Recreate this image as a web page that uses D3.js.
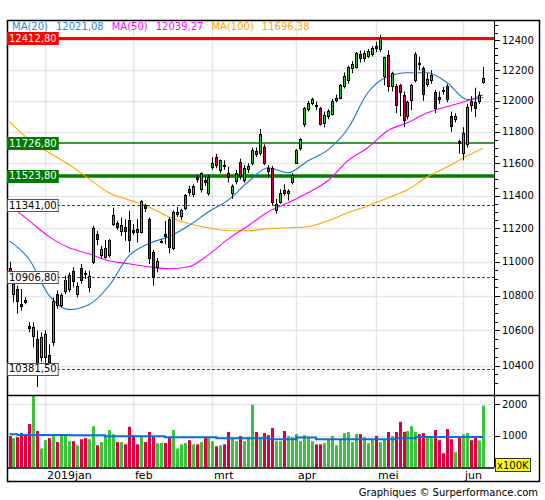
<!DOCTYPE html>
<html><head><meta charset="utf-8">
<script src="https://cdn.jsdelivr.net/npm/d3@7"></script>
<style>
body{margin:0;background:#fff}
svg{display:block}
text{font-family:"DejaVu Sans",Verdana,sans-serif}
</style>
</head><body>
<svg id="c" width="545" height="500"></svg>
<script>
// ---------- data ----------
const openP = [10965,10810,10839,10750,10777,10625,10570,10551,10446,10450,10461,10532,10809,10745,10829,10840,10947,10809,10961,10935,
10849,10996,11166,11041,11031,11040,11226,11232,11186,11206,11250,11190,11196,11176,11340,11256,11059,10967,11120,11166,
11256,11080,11290,11276,11327,11440,11413,11514,11438,11495,11415,11579,11641,11558,11592,11539,11419,11492,11610,11496,
11564,11606,11680,11663,11701,11570,11570,11312,11363,11434,11415,11482,11606,11697,11850,11946,11983,11974,11950,11855,
11903,11915,12005,12021,12095,12135,12217,12221,12306,12280,12295,12306,12362,12338,12164,12302,12095,12095,12100,12035,
11903,12006,12135,12250,12217,12109,12135,12057,12025,12070,12095,11903,11885,11740,11663,11724,11998,11989,12000,12125];
const highP = [11000,10898,10858,10839,10792,10646,10646,10598,10588,10600,10520,10790,10830,10815,10917,10935,10967,10878,10987,10947,
10947,11215,11185,11095,11130,11135,11326,11246,11266,11256,11307,11225,11256,11372,11350,11266,11070,11022,11135,11246,
11266,11310,11330,11320,11410,11460,11470,11530,11545,11520,11530,11640,11660,11625,11620,11580,11470,11560,11630,11590,
11600,11700,11700,11818,11720,11590,11585,11380,11440,11470,11440,11540,11690,11760,11960,12000,12020,11995,11960,11930,
11945,12010,12040,12110,12185,12230,12260,12320,12330,12330,12340,12360,12390,12435,12290,12330,12190,12110,12110,12060,
12000,12110,12320,12290,12225,12180,12200,12070,12060,12090,12110,11930,11920,11750,11830,11980,12030,12085,12060,12220];
const lowP = [10915,10761,10696,10713,10750,10588,10503,10279,10420,10386,10386,10510,10725,10733,10809,10820,10849,10790,10870,10898,
10820,10987,11100,11018,11018,11025,11214,11190,11155,11125,11055,11160,11115,11170,11300,10987,10858,10937,11110,11105,
11050,11070,11270,11250,11310,11400,11390,11480,11420,11460,11400,11560,11570,11540,11560,11480,11380,11470,11500,11480,
11540,11590,11640,11650,11590,11510,11340,11290,11350,11400,11370,11470,11600,11680,11830,11930,11970,11940,11840,11830,
11880,11905,11990,12010,12080,12110,12180,12210,12250,12255,12280,12290,12320,12320,12100,12060,12060,11920,11900,11830,
11880,11940,12120,12200,12000,12090,12110,11920,11980,12040,11990,11800,11860,11663,11620,11700,11930,11895,11980,12110];
const closeP = [10925,10870,10771,10741,10763,10611,10620,10381.5,10559,10580,10417,10767,10748,10804,10893,10921,10887,10856,10891,10931,
10918,11205,11136,11075,11081,11130,11282,11210,11219,11182,11130,11181,11177,11368,11324,11022,10907,11005,11126,11152,
11090,11300,11299,11309,11401,11423,11458,11505,11541,11487,11516,11603,11593,11621,11588,11518,11458,11543,11524,11572,
11587,11686,11657,11788,11604,11550,11364,11347,11419,11419,11428,11526,11682,11754,11954,11988,12010,11963,11851,11906,
11935,12000,12020,12101,12160,12222,12239,12313,12282,12315,12328,12344,12345,12412.8,12287,12093,12180,11974,12060,11877,
11991,12100,12310,12239,12041,12143,12169,11952,12011,12065,12010,11838,11900,11727,11792,11962,11975,11950,12036,12150];
const volume = [990,925,957,1085,1050,1370,2280,1150,600,860,925,1050,800,1050,1020,830,830,700,890,925,
890,1300,700,800,990,1180,1050,800,800,730,1280,1020,730,990,800,1120,990,770,770,770,
957,1180,600,730,770,860,730,730,800,957,957,830,670,700,730,1120,925,830,990,830,
957,1980,1120,957,1085,1020,1245,830,830,1150,990,957,1050,830,1020,925,830,730,730,770,
890,990,700,890,1085,1120,800,1050,1050,957,770,890,990,800,890,1120,990,1120,1440,1120,
1150,1300,1120,1050,1085,957,957,1180,860,450,1210,890,480,990,1050,1085,860,930,850,1950];

const maIdx  = [0,5,10,15,20,25,30,35,40,45,50,55,60,65,70,75,80,85,90,95,100,105,110,115,119];
const ma20   = [11125,11012,10800,10719,10748,10858,11035,11109,11150,11216,11301,11374,11486,11573,11542,11617,11686,11820,12052,12157,12183,12183,12117,12008,12021.08];
const ma50   = [11343,11246,11149,11083,11047,11006,10988,10970,10958,10970,11041,11137,11216,11301,11356,11418,11492,11617,11699,11807,11858,11922,11963,12000,12039.27];
const ma100  = [11865,11749,11667,11592,11504,11418,11374,11331,11270,11228,11204,11186,11186,11198,11204,11210,11246,11295,11337,11386,11436,11517,11579,11648,11696.38];

const volAvgIdx = [0,2,15,24,39,52,65,72,77,97,102,119];
const volAvgVal = [1046,1025,1015,983,952,920,892,946,892,925,957,957];

const monthLabels = ["2019jan","feb","mrt","apr","mei","jun"];
const monthIdx    = [9,31,51,72,92,114];

const priceTicks = [10400,10600,10800,11000,11200,11400,11600,11800,12000,12200,12400];
const volTicks   = [1000,2000];

const levelValues = [12412.8,11726.8,11523.8,11341.0,10906.8,10381.5];
const levelLabels = ["12412,80","11726,80","11523,80","11341,00","10906,80","10381,50"];

const legendNames  = ["MA(20)","MA(50)","MA(100)"];
const legendValues = ["12021,08","12039,27","11696,38"];

// ---------- layout ----------
const L = 7, R = 494, OUTR = 540, TOP = 20, PBOT = 395, VBOT = 467.5, OUTB = 482;
const svg = d3.select("#c");

const x  = d3.scaleLinear().domain([0,119]).range([9.5,483.1]);
const y  = d3.scaleLog().domain([10400,12400]).range([365.5,40.1]);
const yv = d3.scaleLinear().domain([0,2000]).range([VBOT,404]);

const defs = svg.append("defs");
defs.append("clipPath").attr("id","cp").append("rect").attr("x",L).attr("y",TOP).attr("width",R-L).attr("height",PBOT-TOP);
defs.append("clipPath").attr("id","cv").append("rect").attr("x",L).attr("y",PBOT).attr("width",R-L).attr("height",VBOT-PBOT);

const grid = "#e6e6e6";
svg.append("g").selectAll("line").data(priceTicks).join("line")
  .attr("x1",L).attr("x2",R).attr("y1",d=>Math.round(y(d))+0.5).attr("y2",d=>Math.round(y(d))+0.5)
  .attr("stroke",grid).attr("stroke-width",1.5);
svg.append("g").selectAll("line").data(volTicks).join("line")
  .attr("x1",L).attr("x2",R).attr("y1",d=>Math.round(yv(d))+0.5).attr("y2",d=>Math.round(yv(d))+0.5)
  .attr("stroke",grid).attr("stroke-width",1.5);
svg.append("g").selectAll("line").data(monthIdx).join("line")
  .attr("x1",d=>Math.round(x(d))+0.5).attr("x2",d=>Math.round(x(d))+0.5).attr("y1",TOP).attr("y2",VBOT)
  .attr("stroke",grid).attr("stroke-width",1.5);

// level lines
const pg = svg.append("g").attr("clip-path","url(#cp)");
const levelStyle = [
  {stroke:"#ff0000", w:3, dash:null},
  {stroke:"#007000", w:1.5, dash:null},
  {stroke:"#008000", w:3.5, dash:null},
  {stroke:"#444", w:1, dash:"3,2"},
  {stroke:"#444", w:1, dash:"3,2"},
  {stroke:"#444", w:1, dash:"3,2"}
];
levelValues.forEach((v,i)=>{
  const st = levelStyle[i];
  const yy = st.w%2===1 ? Math.round(y(v))+0.5 : Math.round(y(v));
  pg.append("line").attr("x1",L).attr("x2",R).attr("y1",yy).attr("y2",yy)
    .attr("stroke",st.stroke).attr("stroke-width",st.w).attr("stroke-dasharray",st.dash);
});

// moving averages
const maLine = vals => d3.line().x((d,i)=>x(maIdx[i])).y(d=>y(d)).curve(d3.curveMonotoneX)(vals);
pg.append("path").attr("d",maLine(ma100)).attr("fill","none").attr("stroke","#ffa500").attr("stroke-width",1.1);
pg.append("path").attr("d",maLine(ma50)).attr("fill","none").attr("stroke","#ff00ff").attr("stroke-width",1.1);
pg.append("path").attr("d",maLine(ma20)).attr("fill","none").attr("stroke","#1874cd").attr("stroke-width",1.1);

// candles
const greenC = "#33b833", redC = "#cc0033";
const idx = d3.range(closeP.length);
const cg = pg.append("g");
idx.forEach(i=>{
  const px = Math.round(x(i));
  const up = closeP[i] >= openP[i];
  cg.append("line").attr("x1",px+0.5).attr("x2",px+0.5)
    .attr("y1",y(highP[i])).attr("y2",y(lowP[i])).attr("stroke","#000").attr("stroke-width",1);
  const yt = Math.round(y(Math.max(openP[i],closeP[i])));
  let yb = Math.round(y(Math.min(openP[i],closeP[i])));
  if (yb - yt < 1) yb = yt + 1;
  cg.append("rect").attr("x",px-1).attr("y",yt).attr("width",3).attr("height",yb-yt+1).attr("fill","#000");
  if (yb - yt >= 2) {
    cg.append("rect").attr("x",px).attr("y",yt+1).attr("width",1).attr("height",yb-yt-1).attr("fill",up?greenC:redC);
  }
});

// volume
const vg = svg.append("g").attr("clip-path","url(#cv)");
vg.selectAll("rect").data(idx).join("rect")
  .attr("x",i=>Math.round(x(i))-1).attr("width",3)
  .attr("y",i=>yv(volume[i])).attr("height",i=>VBOT-yv(volume[i]))
  .attr("fill",i=>closeP[i]>=openP[i]?"#3cc23c":"#dc0042");
const vpts = volAvgIdx.map((d,i)=>[d,volAvgVal[i]]);
vg.append("path").attr("d",d3.line().x(d=>x(d[0])).y(d=>yv(d[1])).curve(d3.curveStepAfter)(vpts))
  .attr("fill","none").attr("stroke","#0a6fd6").attr("stroke-width",2);

// frames
svg.append("rect").attr("x",L+0.5).attr("y",TOP+0.5).attr("width",OUTR-L-1).attr("height",OUTB-TOP-1)
  .attr("fill","none").attr("stroke","#000").attr("stroke-width",1.5);
svg.append("line").attr("x1",L).attr("x2",OUTR).attr("y1",PBOT+0.5).attr("y2",PBOT+0.5).attr("stroke","#000").attr("stroke-width",1.5);
svg.append("line").attr("x1",L).attr("x2",R).attr("y1",VBOT+0.5).attr("y2",VBOT+0.5).attr("stroke","#000").attr("stroke-width",1.5);
svg.append("line").attr("x1",R+0.5).attr("x2",R+0.5).attr("y1",TOP).attr("y2",VBOT).attr("stroke","#000").attr("stroke-width",1);

// price axis
const minor = d3.range(10300,12551,50).filter(v=>y(v)>TOP+1 && y(v)<PBOT-1);
svg.append("g").selectAll("line").data(minor).join("line")
  .attr("x1",R).attr("x2",d=>priceTicks.includes(d)?R+6:R+4)
  .attr("y1",d=>Math.round(y(d))+0.5).attr("y2",d=>Math.round(y(d))+0.5).attr("stroke","#000");
svg.append("g").selectAll("text").data(priceTicks).join("text")
  .attr("x",R+8).attr("y",d=>y(d)).attr("dy","0.35em").attr("font-size",10).attr("fill","#000").text(d=>d);

// volume axis
svg.append("g").selectAll("line").data(volTicks).join("line")
  .attr("x1",R).attr("x2",R+6).attr("y1",d=>Math.round(yv(d))+0.5).attr("y2",d=>Math.round(yv(d))+0.5).attr("stroke","#000");
svg.append("g").selectAll("text").data(volTicks).join("text")
  .attr("x",R+8).attr("y",d=>yv(d)).attr("dy","0.35em").attr("font-size",10).text(d=>d);
svg.append("rect").attr("x",R+1.5).attr("y",458.5).attr("width",35).attr("height",13).attr("fill","#ffff00").attr("stroke","#333");
svg.append("text").attr("x",R+3).attr("y",468.5).attr("font-size",10).text("x100K");

// month labels
svg.append("g").selectAll("text").data(monthIdx).join("text")
  .attr("x",d=>Math.round(x(d))+2).attr("y",479).attr("font-size",11).text((d,i)=>monthLabels[i]);

// level label boxes
const boxStyle = [
  {fill:"#ff0000", stroke:"#ff0000", text:"#fff"},
  {fill:"#007a00", stroke:"#007a00", text:"#fff"},
  {fill:"#007a00", stroke:"#007a00", text:"#fff"},
  {fill:"#fff", stroke:"#555", text:"#000"},
  {fill:"#fff", stroke:"#555", text:"#000"},
  {fill:"#fff", stroke:"#555", text:"#000"}
];
levelValues.forEach((v,i)=>{
  const st = boxStyle[i];
  const cy = y(v);
  const g = svg.append("g");
  const r = g.append("rect").attr("x",L+0.5).attr("y",Math.round(cy-6)+0.5).attr("height",12)
     .attr("fill",st.fill).attr("stroke",st.stroke);
  const t = g.append("text").attr("x",L+2).attr("y",cy).attr("dy","0.36em").attr("font-size",10)
     .attr("fill",st.text).text(levelLabels[i]);
  r.attr("width", t.node().getComputedTextLength()+3);
});

// legend
const legColors = ["#1a8ae0","#ff00ff","#ffa500"];
let lx = 12;
legendNames.forEach((n,i)=>{
  [n, legendValues[i]].forEach(s=>{
    const t = svg.append("text").attr("x",lx).attr("y",29.5).attr("font-size",10).attr("fill",legColors[i]).text(s);
    lx += t.node().getComputedTextLength() + 8;
  });
});

// footer
svg.append("text").attr("x",538).attr("y",496).attr("text-anchor","end").attr("font-size",10).attr("fill","#000")
  .text("Graphiques © Surperformance.com");
</script>
</body></html>
